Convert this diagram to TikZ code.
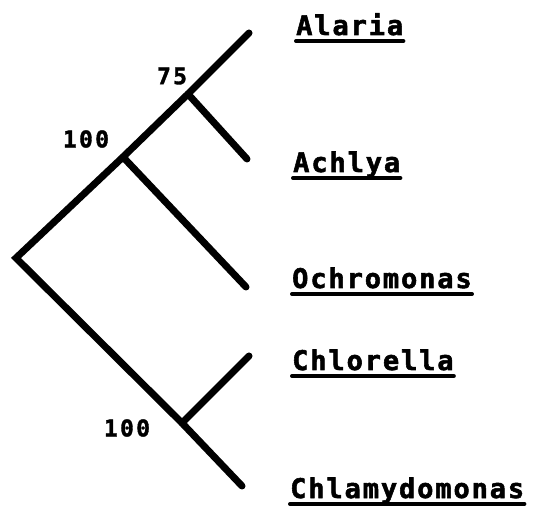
\documentclass[tikz,border=0pt]{standalone}
\usepackage{fontspec}
\newfontfamily\taxonfont[LetterSpace=7,FakeBold=2]{DejaVu Sans Mono Bold}
\newfontfamily\supportfont[LetterSpace=10,FakeBold=1.5]{DejaVu Sans Mono Bold}
\begin{document}
\begin{tikzpicture}[x=1pt,y=-1pt,
  branch/.style={line width=7pt,line cap=round,line join=miter},
  taxon/.style={inner sep=0pt,anchor=base west,font=\taxonfont\fontsize{27}{27}\selectfont},
  support/.style={inner sep=0pt,font=\supportfont\fontsize{23}{23}\selectfont},
  uline/.style={line width=4pt,line cap=round}]
\useasboundingbox (0,0) rectangle (533,518);

% internal nodes and tips
\coordinate (root) at (16,258);
\coordinate (hA) at (123,157);
\coordinate (hB) at (188,94);
\coordinate (hC) at (182,423);
\coordinate (tAlaria) at (249,33);
\coordinate (tAchlya) at (247,159);
\coordinate (tOchro) at (246,287);
\coordinate (tChlore) at (249,356);
\coordinate (tChlamy) at (242,486);

% branches
\draw[branch] (tAlaria) -- (hB) -- (hA) -- (root) -- (hC) -- (tChlamy);
\draw[branch] (hB) -- (tAchlya);
\draw[branch] (hA) -- (tOchro);
\draw[branch] (hC) -- (tChlore);

% bootstrap values
\node[support] (s75) at (172,76) {75};
\node[support] (s100a) at (86,139) {100};
\node[support] (s100b) at (127,428) {100};

% taxon names, underlined
\node[taxon] (lAlaria) at (296,35) {Alaria};
\node[taxon] (lAchlya) at (293,172) {Achlya};
\node[taxon] (lOchro) at (292,288) {Ochromonas};
\node[taxon] (lChlore) at (292,370) {Chlorella};
\node[taxon] (lChlamy) at (290,498) {Chlamydomonas};
\foreach \n in {lAlaria,lAchlya,lOchro,lChlore,lChlamy}
  \draw[uline] ([yshift=-6pt]\n.base west) -- ([yshift=-6pt]\n.base east);
\end{tikzpicture}
\end{document}
